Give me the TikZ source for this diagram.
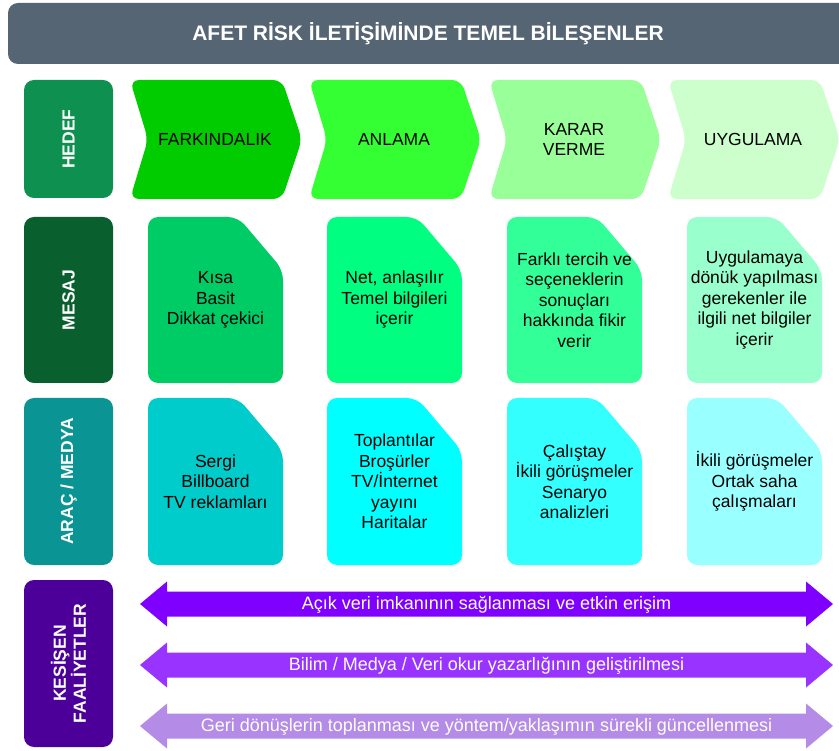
\documentclass[tikz,border=0pt]{standalone}
\usepackage{fontspec}
\setmainfont{Liberation Sans}
\definecolor{titlec}{HTML}{566573}
\definecolor{hedefc}{HTML}{0E9150}
\definecolor{mesajc}{HTML}{0A5F2F}
\definecolor{aracc}{HTML}{0B9494}
\definecolor{kesc}{HTML}{4C0099}
\definecolor{ch1}{HTML}{00CC00}
\definecolor{ch2}{HTML}{33FF33}
\definecolor{ch3}{HTML}{99FF99}
\definecolor{ch4}{HTML}{CCFFCC}
\definecolor{ms1}{HTML}{00CC66}
\definecolor{ms2}{HTML}{00FF80}
\definecolor{ms3}{HTML}{33FF99}
\definecolor{ms4}{HTML}{99FFCC}
\definecolor{ar1}{HTML}{00CCCC}
\definecolor{ar2}{HTML}{00FFFF}
\definecolor{ar3}{HTML}{33FFFF}
\definecolor{ar4}{HTML}{99FFFF}
\definecolor{pa1}{HTML}{7F00FF}
\definecolor{pa2}{HTML}{9933FF}
\definecolor{pa3}{HTML}{B58BE8}
\newcommand\mychev[4]{%
  \fill[#3, rounded corners=9pt] (#2,80) -- (#2+152,80) -- (#2+172,139.5) -- (#2+152,199) -- (#2,199) -- (#2+18,139.5) -- cycle;
  \node[body] (#1) at (#2+85,139.5) {#4};}
\newcommand\mydoc[6]{%
  \fill[#5, rounded corners=10pt] (#2,#3) -- (#2+90,#3) -- (#2+135,#3+53) -- (#2+135,#4) -- (#2,#4) -- cycle;
  \node[body] (#1) at (#2+67.5,{(#3+#4)/2}) {#6};}
\newcommand\mylabel[5]{%
  \fill[#4, rounded corners=10pt] (24,#2) rectangle (113,#3);
  \node[lbltxt] (#1) at (68.5,{(#2+#3)/2}) {#5};}
\newcommand\myarrow[4]{%
  \fill[#3] (140,#2) -- (167,#2-22.5) -- (167,#2-12.5) -- (806,#2-12.5) -- (806,#2-22.5) -- (833,#2) -- (806,#2+22.5) -- (806,#2+12.5) -- (167,#2+12.5) -- (167,#2+22.5) -- cycle;
  \node[arrtxt] (#1) at (486.5,#2+1) {#4};}
\begin{document}
\begin{tikzpicture}[x=1pt,y=-1pt,
  body/.style={font=\fontsize{17.5}{20.5}\selectfont, align=center, text=black, inner sep=0pt},
  lbltxt/.style={font=\fontsize{17.5}{20}\selectfont\bfseries, text=white, rotate=90, align=center, inner sep=0pt},
  arrtxt/.style={font=\fontsize{18}{20}\selectfont, text=white, inner sep=0pt},
  titletxt/.style={font=\fontsize{21}{24}\selectfont\bfseries, text=white, inner sep=0pt}]
\clip (0,0) rectangle (839,751);
\fill[white] (0,0) rectangle (839,751);
% title
\fill[titlec, rounded corners=10pt] (8,3) rectangle (870,64);
\node[titletxt] (title) at (428,34) {AFET RİSK İLETİŞİMİNDE TEMEL BİLEŞENLER};
% labels
\mylabel{hedef}{80}{198}{hedefc}{HEDEF}
\mylabel{mesaj}{217}{383}{mesajc}{MESAJ}
\mylabel{arac}{398}{565}{aracc}{ARAÇ / MEDYA}
\mylabel{kes}{580}{747}{kesc}{KESİŞEN\\FAALİYETLER}
% chevrons
\mychev{c1}{130}{ch1}{FARKINDALIK}
\mychev{c2}{309}{ch2}{ANLAMA}
\mychev{c3}{489}{ch3}{KARAR\\VERME}
\mychev{c4}{668}{ch4}{UYGULAMA}
% messages
\mydoc{m1}{148}{217}{383}{ms1}{Kısa\\Basit\\Dikkat çekici}
\mydoc{m2}{327}{217}{383}{ms2}{Net, anlaşılır\\Temel bilgileri\\içerir}
\mydoc{m3}{507}{217}{383}{ms3}{Farklı tercih ve\\seçeneklerin\\sonuçları\\hakkında fikir\\verir}
\mydoc{m4}{687}{217}{383}{ms4}{Uygulamaya\\dönük yapılması\\gerekenler ile\\ilgili net bilgiler\\içerir}
% tools
\mydoc{t1}{148}{398}{565}{ar1}{Sergi\\Billboard\\TV reklamları}
\mydoc{t2}{327}{398}{565}{ar2}{Toplantılar\\Broşürler\\TV/İnternet\\yayını\\Haritalar}
\mydoc{t3}{507}{398}{565}{ar3}{Çalıştay\\İkili görüşmeler\\Senaryo\\analizleri}
\mydoc{t4}{687}{398}{565}{ar4}{İkili görüşmeler\\Ortak saha\\çalışmaları}
% arrows
\myarrow{a1}{604}{pa1}{Açık veri imkanının sağlanması ve etkin erişim}
\myarrow{a2}{665}{pa2}{Bilim / Medya / Veri okur yazarlığının geliştirilmesi}
\myarrow{a3}{726}{pa3}{Geri dönüşlerin toplanması ve yöntem/yaklaşımın sürekli güncellenmesi}
\end{tikzpicture}
\end{document}
